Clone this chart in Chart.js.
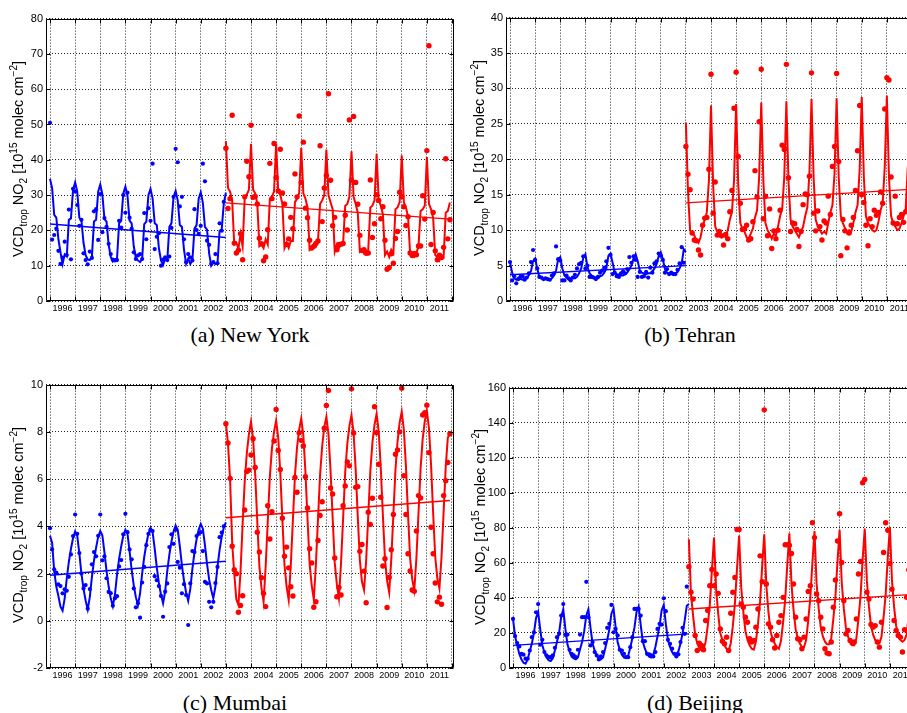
<!DOCTYPE html>
<html lang="en">
<head>
<meta charset="UTF-8">
<title>Tropospheric NO2 columns</title>
<script src="https://cdn.jsdelivr.net/npm/chart.js"></script>
<style>
  html, body { margin: 0; padding: 0; background: #fff; overflow: hidden; }
  body { width: 907px; height: 713px; position: relative; }
  canvas { position: absolute; }
  .ytitle { position: absolute; width: 240px; height: 18px; line-height: 18px; text-align: center; white-space: nowrap;
            font: 14.5px 'Liberation Sans', Arial, sans-serif; color: #000; transform: rotate(-90deg); }
  .ytitle sub, .ytitle sup { font-size: 10px; line-height: 0; }
  .caption { position: absolute; font: 22px 'Liberation Serif', 'Times New Roman', serif; white-space: nowrap;
             line-height: 26px; transform: translateX(-50%); color: #000; }
</style>
</head>
<body>
<canvas id="cA" width="444" height="308" style="left:16px;top:9px"></canvas>
<canvas id="cB" width="444" height="309" style="left:476px;top:8px"></canvas>
<canvas id="cC" width="444" height="309" style="left:16px;top:375px"></canvas>
<canvas id="cD" width="444" height="306" style="left:479px;top:378px"></canvas>

<div class="ytitle" style="left:-101px;top:150px">VCD<sub>trop</sub> NO<sub>2</sub> [10<sup>15</sup> molec cm<sup>&minus;2</sup>]</div>
<div class="ytitle" style="left:360px;top:149px">VCD<sub>trop</sub> NO<sub>2</sub> [10<sup>15</sup> molec cm<sup>&minus;2</sup>]</div>
<div class="ytitle" style="left:-101px;top:516px">VCD<sub>trop</sub> NO<sub>2</sub> [10<sup>15</sup> molec cm<sup>&minus;2</sup>]</div>
<div class="ytitle" style="left:361px;top:518px">VCD<sub>trop</sub> NO<sub>2</sub> [10<sup>15</sup> molec cm<sup>&minus;2</sup>]</div>

<div class="caption" style="left:250px;top:322px">(a) New York</div>
<div class="caption" style="left:690px;top:322px">(b) Tehran</div>
<div class="caption" style="left:235px;top:690px">(c) Mumbai</div>
<div class="caption" style="left:695px;top:690px">(d) Beijing</div>

<script>
// monthly series: GOME (blue) from Jan 1996, SCIAMACHY (red) from Jan 2003
const gomeStart = 1996;
const sciaStart = 2003;
const yearLabels = [1996, 1997, 1998, 1999, 2000, 2001, 2002, 2003, 2004, 2005, 2006, 2007, 2008, 2009, 2010, 2011];

// ---- New York ----
const nyGomeObs = [
  50.5, 17.4, 18.7, 20.5, 14.2, 10.5, 12.3, 16.8, 13.0, 25.9, 11.8, 31.8,
  31.0, 27.2, 21.3, 23.0, 13.5, 11.6, 10.4, 14.0, 12.2, 25.4, 26.0, 17.3,
  30.3, 19.5, 23.5, 21.0, 16.2, 13.3, 11.7, 11.5, 11.6, 22.7, 20.8, 30.0,
  25.0, 30.7, 23.6, 20.5, 13.8, 11.9, 12.9, 13.3, 11.9, 24.9, 17.5, 26.3,
  22.7, 38.9, 14.7, 18.2, 19.2, 10.0, 11.7, 12.4, 11.6, 12.6, 20.7, 29.5,
  43.1, 39.3, 26.8, 29.5, 17.5, 11.0, 13.3, 12.4, 11.5, 26.0, 20.1, 19.0,
  21.3, 38.9, 33.9, 17.1, 15.9, 10.5, 11.0, 13.3, 10.7, 22.0, 19.9, 28.1];
const nyGomeFit = [
  34.6, 32.0, 24.4, 23.6, 17.5, 13.8, 10.5, 13.2, 12.6, 23.0, 23.4, 31.5,
  33.6, 31.0, 23.6, 22.8, 16.5, 13.0, 11.8, 11.6, 12.5, 22.5, 23.0, 31.0,
  33.0, 30.2, 23.2, 22.5, 16.0, 12.5, 11.2, 11.8, 12.0, 22.0, 22.8, 30.5,
  32.4, 29.8, 22.8, 22.0, 15.5, 12.2, 11.5, 11.0, 11.8, 21.8, 22.5, 30.0,
  31.8, 29.0, 22.0, 21.5, 15.0, 11.5, 10.2, 12.0, 11.5, 21.0, 22.0, 29.5,
  31.2, 28.5, 21.5, 21.0, 14.5, 10.5, 12.0, 10.5, 11.5, 20.5, 21.5, 29.0,
  30.8, 27.8, 21.0, 20.2, 13.5, 10.0, 11.0, 10.5, 10.8, 19.9, 20.3, 27.6,
  30.7];
const nySciaObs = [
  43.3, 26.2, 29.0, 52.6, 16.4, 13.6, 14.4, 19.1, 11.7, 29.5, 39.6, 35.2,
  49.8, 29.4, 29.6, 27.5, 17.8, 16.2, 11.4, 12.5, 20.2, 39.0, 29.0, 44.6,
  35.0, 31.2, 43.0, 30.6, 27.5, 16.0, 17.6, 23.7, 20.5, 36.0, 29.5, 52.4,
  33.6, 45.0, 26.3, 23.6, 17.2, 15.0, 15.5, 16.3, 17.0, 44.0, 22.5, 32.0,
  35.6, 58.7, 34.2, 21.3, 23.7, 14.5, 16.0, 16.1, 16.3, 24.3, 20.1, 51.3,
  34.2, 52.3, 33.6, 27.4, 18.6, 14.3, 14.5, 13.5, 13.6, 34.3, 18.0, 21.9,
  30.1, 28.5, 23.3, 26.7, 17.2, 9.0, 9.5, 13.4, 10.7, 17.7, 19.7, 30.8,
  29.6, 26.7, 21.4, 23.9, 13.6, 12.9, 13.5, 13.1, 15.6, 15.6, 29.8, 23.2,
  42.6, 72.3, 16.0, 25.1, 14.2, 11.7, 13.0, 12.3, 15.2, 40.3, 17.6, 23.0];
const nySciaFit = [
  45.3, 32.0, 31.0, 28.5, 16.0, 16.5, 14.8, 19.0, 15.5, 29.3, 30.2, 31.5,
  44.5, 31.5, 30.5, 27.5, 15.5, 16.0, 15.0, 17.5, 16.0, 29.0, 29.5, 31.0,
  44.5, 31.0, 30.0, 27.5, 15.0, 16.5, 15.0, 17.0, 17.0, 28.0, 29.0, 30.5,
  43.4, 30.5, 29.0, 26.5, 14.5, 15.0, 16.0, 15.5, 17.0, 27.5, 28.5, 30.0,
  42.9, 30.0, 28.0, 26.0, 14.0, 16.0, 15.0, 16.0, 16.5, 27.0, 27.5, 29.5,
  42.4, 29.5, 27.5, 25.0, 14.0, 14.5, 13.5, 14.0, 14.5, 26.5, 27.0, 28.5,
  41.7, 28.5, 27.0, 24.5, 13.0, 14.0, 12.5, 14.5, 13.5, 26.0, 26.5, 28.0,
  41.3, 28.0, 26.5, 24.0, 13.5, 13.0, 12.5, 13.5, 15.5, 25.5, 26.0, 27.0,
  40.8, 27.5, 26.0, 23.5, 13.0, 12.5, 11.5, 13.0, 12.5, 25.0, 25.5, 27.9];
const nyGomeTrend = [21.8, 18.0];
const nySciaTrend = [27.8, 23.2];

// ---- Tehran ----
const thGomeObs = [
  5.5, 2.9, 3.5, 2.5, 3.1, 3.4, 3.5, 3.0, 3.3, 3.9, 5.5, 7.2,
  5.8, 4.6, 3.4, 3.3, 3.1, 3.2, 3.1, 3.0, 3.6, 3.9, 7.7, 5.9,
  5.7, 2.9, 2.9, 3.6, 3.2, 2.9, 3.3, 3.7, 4.6, 5.2, 5.4, 6.3,
  4.6, 5.0, 3.4, 3.4, 3.3, 3.1, 3.4, 4.0, 4.3, 4.7, 5.6, 7.5,
  6.5, 3.8, 4.0, 3.5, 3.4, 3.9, 4.2, 3.9, 4.5, 6.2, 5.4, 6.3,
  5.8, 3.4, 4.1, 3.4, 3.5, 4.1, 3.3, 4.7, 4.0, 5.3, 5.6, 6.7,
  6.4, 5.8, 4.0, 4.5, 3.8, 4.0, 3.8, 3.8, 4.4, 5.3, 7.6, 5.4];
const thGomeFit = [
  5.5, 4.0, 3.2, 3.0, 3.3, 3.1, 3.0, 3.2, 3.3, 3.6, 4.2, 5.6,
  6.0, 4.6, 3.4, 3.2, 3.1, 3.1, 3.0, 3.0, 3.2, 3.6, 4.3, 5.9,
  6.2, 4.6, 3.6, 3.3, 3.0, 3.2, 3.3, 3.2, 3.4, 3.9, 4.6, 6.1,
  6.6, 4.8, 3.9, 3.6, 3.4, 3.3, 3.2, 3.5, 3.6, 4.0, 4.6, 6.4,
  6.7, 5.4, 4.0, 3.8, 3.7, 3.6, 3.6, 3.8, 4.0, 4.5, 5.0, 6.0,
  6.6, 5.6, 4.3, 4.0, 3.9, 3.8, 3.9, 3.9, 4.2, 4.6, 5.2, 6.3,
  6.9, 5.9, 4.5, 4.0, 3.9, 3.8, 3.9, 3.9, 4.1, 4.6, 5.3, 7.3,
  6.9];
const thSciaObs = [
  21.8, 17.9, 15.7, 9.6, 8.6, 8.5, 7.2, 6.5, 10.7, 11.7, 11.8, 18.6,
  32.0, 12.4, 16.8, 9.3, 9.8, 9.2, 7.9, 9.4, 8.8, 12.6, 15.6, 27.2,
  32.3, 20.4, 13.8, 10.1, 10.2, 10.7, 8.6, 8.8, 11.2, 18.4, 14.7, 25.3,
  32.7, 11.6, 14.8, 9.2, 13.0, 7.4, 9.9, 8.8, 10.0, 12.8, 22.0, 21.4,
  33.4, 17.4, 9.8, 11.0, 10.9, 10.1, 7.7, 9.8, 13.6, 15.1, 15.0, 17.6,
  32.2, 12.4, 9.9, 12.7, 10.5, 8.6, 11.3, 11.0, 14.8, 12.2, 19.0, 21.8,
  32.1, 19.7, 6.4, 11.5, 9.9, 7.5, 9.6, 10.7, 11.8, 15.6, 21.2, 27.6,
  15.0, 13.9, 10.7, 7.8, 11.6, 10.5, 12.8, 12.1, 12.5, 15.4, 13.8, 27.1,
  31.5, 31.2, 17.5, 11.0, 14.8, 10.9, 11.8, 12.2, 11.1, 12.6, 13.3, 9.5];
const thSciaFit = [
  25.2, 15.5, 10.0, 9.5, 9.3, 8.5, 8.2, 9.0, 10.5, 11.5, 12.5, 17.0,
  27.6, 16.5, 10.5, 9.8, 9.5, 9.0, 9.2, 9.0, 10.0, 11.5, 12.5, 17.0,
  27.8, 16.5, 11.0, 10.2, 9.8, 9.0, 8.8, 9.5, 10.2, 11.8, 12.8, 17.5,
  28.0, 17.0, 11.0, 10.0, 9.5, 8.8, 9.5, 9.2, 10.5, 12.0, 13.0, 17.5,
  28.2, 17.0, 11.5, 10.5, 10.0, 9.5, 9.0, 9.8, 10.5, 12.0, 13.2, 18.0,
  28.5, 17.5, 11.5, 10.5, 10.0, 9.5, 9.8, 9.5, 11.0, 12.5, 13.5, 18.0,
  28.6, 17.5, 12.0, 11.0, 10.3, 9.6, 10.0, 9.8, 11.0, 12.5, 13.5, 18.5,
  28.8, 17.5, 12.0, 11.0, 10.5, 10.0, 9.8, 10.0, 11.2, 12.8, 13.8, 19.0,
  29.0, 17.5, 12.0, 11.0, 10.5, 10.0, 10.2, 11.0, 12.0, 13.0, 18.9, 21.0];
const thGomeTrend = [3.7, 5.0];
const thSciaTrend = [13.85, 15.75];

// ---- Mumbai ----
const mbGomeObs = [
  3.92, 3.02, 2.18, 2.04, 1.54, 1.47, 1.16, 1.33, 1.27, 1.86, 2.81, 3.59,
  4.50, 3.68, 2.87, 2.00, 1.37, 1.51, 0.51, 1.34, 2.39, 2.91, 2.73, 3.60,
  4.50, 2.56, 2.73, 1.80, 1.22, 1.17, 0.64, 0.95, 1.04, 2.30, 2.57, 3.66,
  4.53, 3.75, 3.02, 2.60, 1.37, 0.57, 0.74, 0.13, 1.62, 2.28, 3.20, 3.68,
  3.85, 3.80, 1.89, 1.72, 1.47, 1.05, 0.17, 1.23, 1.58, 3.12, 3.66, 3.26,
  3.85, 2.49, 2.25, 1.16, 1.55, 1.09, -0.18, 1.58, 2.95, 2.91, 3.59, 3.68,
  3.75, 2.95, 1.65, 1.58, 0.80, 0.57, 0.80, 1.60, 2.28, 3.54, 3.73, 4.00];
const mbGomeFit = [
  3.60, 3.30, 2.10, 1.45, 1.05, 0.60, 0.43, 0.95, 1.80, 2.50, 3.05, 3.50,
  3.78, 3.60, 2.85, 2.00, 1.35, 0.86, 0.48, 1.00, 1.85, 2.55, 3.10, 3.55,
  3.80, 3.62, 2.90, 2.10, 1.45, 0.95, 0.62, 1.10, 1.95, 2.62, 3.15, 3.60,
  3.85, 3.68, 2.95, 2.15, 1.50, 1.00, 0.67, 1.15, 2.00, 2.70, 3.25, 3.68,
  3.94, 3.75, 3.05, 2.25, 1.60, 1.10, 0.74, 1.25, 2.10, 2.80, 3.35, 3.78,
  4.03, 3.85, 3.15, 2.35, 1.70, 1.20, 0.85, 1.35, 2.20, 2.90, 3.45, 3.85,
  4.10, 3.90, 3.20, 2.40, 1.75, 1.30, 0.95, 1.45, 2.30, 3.00, 3.55, 3.95,
  4.17];
const mbSciaObs = [
  8.34, 7.53, 6.03, 3.16, 2.16, 1.99, 0.36, 0.65, 1.06, 4.69, 6.32, 6.38,
  7.02, 7.71, 6.49, 3.75, 2.91, 1.82, 1.16, 0.60, 4.87, 3.46, 4.62, 7.61,
  8.95, 7.21, 6.41, 4.34, 2.73, 3.12, 2.24, 1.44, 1.05, 6.07, 5.44, 7.96,
  7.64, 7.40, 6.10, 4.78, 3.05, 2.45, 0.57, 0.81, 3.40, 4.46, 5.04, 8.15,
  9.12, 9.75, 5.62, 5.37, 2.66, 1.02, 1.41, 1.09, 4.87, 5.71, 6.73, 6.56,
  9.82, 7.95, 5.65, 5.68, 2.94, 3.23, 2.10, 0.76, 4.60, 4.08, 5.19, 9.06,
  7.96, 6.63, 5.23, 2.32, 2.63, 0.56, 1.83, 3.01, 4.50, 7.05, 7.23, 8.00,
  9.85, 6.14, 4.50, 2.84, 2.11, 1.30, 1.25, 3.80, 5.30, 5.20, 8.71, 8.81,
  9.13, 7.12, 3.96, 2.84, 1.60, 0.80, 1.00, 0.70, 5.30, 5.93, 6.70, 7.92];
const mbSciaFit = [
  8.39, 7.50, 6.00, 3.30, 2.00, 0.90, 0.67, 2.10, 4.10, 5.90, 7.10, 7.90,
  8.43, 7.70, 6.20, 4.20, 2.30, 1.40, 0.80, 2.30, 4.20, 6.10, 7.30, 8.00,
  8.48, 7.75, 6.25, 4.25, 2.35, 1.45, 0.88, 2.35, 4.25, 6.15, 7.35, 8.10,
  8.57, 7.85, 6.30, 4.30, 2.40, 1.50, 0.90, 2.40, 4.30, 6.20, 7.40, 8.20,
  8.64, 7.90, 6.35, 4.35, 2.45, 1.55, 0.95, 2.45, 4.35, 6.30, 7.50, 8.25,
  8.70, 7.95, 6.40, 4.40, 2.55, 1.65, 1.30, 2.55, 4.45, 6.35, 7.55, 8.30,
  8.77, 8.00, 6.45, 4.45, 2.60, 1.70, 1.20, 2.60, 4.50, 6.40, 7.60, 8.40,
  8.85, 8.10, 6.55, 4.50, 2.65, 1.75, 1.30, 2.65, 4.55, 6.45, 7.70, 8.45,
  8.90, 8.15, 6.60, 4.55, 2.70, 1.80, 1.37, 2.70, 4.60, 6.50, 7.75, 7.96];
const mbGomeTrend = [1.93, 2.52];
const mbSciaTrend = [4.36, 5.09];

// ---- Beijing ----
const bjGomeObs = [
  28.0, 18.2, 14.2, 12.3, 8.1, 7.6, 5.3, 5.3, 10.0, 17.6, 20.3, 31.8,
  36.5, 13.3, 16.1, 9.1, 7.2, 6.2, 6.2, 7.2, 11.5, 17.6, 19.5, 29.9,
  36.5, 18.9, 19.1, 10.4, 8.1, 7.2, 6.2, 10.4, 19.1, 29.0, 29.0, 49.2,
  29.0, 12.9, 14.8, 9.1, 7.2, 4.9, 6.6, 9.1, 14.2, 22.9, 25.2, 36.0,
  20.4, 22.3, 18.6, 10.4, 10.0, 8.1, 6.2, 6.2, 11.9, 17.6, 33.7, 33.7,
  33.7, 29.9, 15.3, 15.3, 8.1, 7.8, 7.2, 6.6, 9.1, 22.3, 25.2, 24.8,
  39.8, 32.4, 16.1, 13.8, 11.0, 8.1, 6.6, 7.8, 14.8, 22.9, 19.5, 46.4];
const bjGomeFit = [
  28.0, 18.0, 13.0, 8.0, 5.0, 3.0, 2.5, 5.0, 9.5, 14.0, 20.0, 28.5,
  32.0, 22.0, 13.0, 9.0, 6.0, 4.5, 4.0, 5.5, 10.0, 15.0, 20.0, 29.0,
  33.5, 22.5, 13.5, 9.5, 6.5, 5.5, 5.0, 6.0, 10.5, 15.0, 21.0, 30.0,
  33.5, 23.0, 14.0, 10.0, 7.0, 5.5, 5.0, 6.0, 11.0, 16.0, 22.0, 31.0,
  34.0, 23.5, 14.5, 10.5, 7.5, 6.0, 6.0, 7.0, 11.5, 17.0, 23.0, 32.0,
  35.0, 24.5, 15.0, 11.0, 8.0, 6.5, 6.0, 7.5, 12.0, 18.0, 24.0, 33.0,
  36.0, 25.0, 16.0, 12.0, 9.0, 8.0, 8.0, 9.5, 14.0, 20.0, 27.0, 35.5,
  36.5];
const bjSciaObs = [
  57.8, 43.2, 39.4, 18.6, 10.0, 14.2, 12.9, 10.4, 27.1, 32.8, 47.0, 56.2,
  47.0, 53.6, 42.6, 22.3, 15.3, 13.8, 17.6, 10.0, 31.2, 43.2, 51.7, 79.0,
  79.0, 36.5, 34.7, 29.0, 26.1, 16.7, 14.8, 15.7, 23.3, 33.7, 64.0, 49.2,
  147.3, 48.0, 25.2, 23.3, 16.1, 11.4, 18.6, 26.1, 29.9, 40.3, 70.3, 70.3,
  70.1, 65.3, 47.9, 29.0, 16.7, 16.1, 11.0, 17.6, 28.0, 43.7, 47.0, 82.9,
  74.4, 42.2, 38.4, 29.0, 22.3, 11.0, 8.5, 8.1, 14.8, 34.7, 50.2, 72.5,
  88.0, 60.2, 38.4, 19.5, 21.4, 15.7, 14.2, 14.8, 28.0, 53.6, 60.8, 105.7,
  107.6, 43.2, 39.4, 24.8, 23.3, 24.2, 14.8, 11.9, 26.1, 65.9, 82.9, 78.6,
  59.6, 45.0, 27.1, 21.4, 18.6, 17.6, 9.1, 21.8, 40.3, 56.0, 62.0, 70.0];
const bjSciaFit = [
  73.5, 42.0, 30.0, 19.0, 14.0, 11.5, 10.0, 10.5, 15.0, 24.0, 36.0, 56.0,
  74.4, 45.0, 31.0, 20.0, 16.0, 13.0, 11.0, 10.0, 14.0, 24.0, 37.0, 57.0,
  75.5, 46.0, 32.0, 21.0, 16.0, 13.0, 11.0, 10.5, 15.0, 25.0, 38.0, 58.0,
  76.3, 47.0, 32.0, 21.0, 16.5, 14.0, 12.0, 11.0, 15.5, 26.0, 39.0, 59.0,
  76.9, 48.0, 33.0, 22.0, 17.0, 14.0, 12.0, 12.0, 16.0, 27.0, 40.0, 60.0,
  78.2, 48.0, 34.0, 23.0, 18.0, 15.0, 13.5, 13.5, 17.0, 28.0, 41.0, 61.0,
  78.8, 49.0, 34.0, 23.0, 18.0, 15.0, 13.0, 13.0, 17.0, 28.0, 41.0, 62.0,
  79.5, 50.0, 35.0, 24.0, 19.0, 16.0, 14.0, 14.0, 18.0, 29.0, 42.0, 63.0,
  80.5, 50.0, 35.0, 24.0, 19.0, 16.0, 15.0, 16.0, 19.0, 30.0, 56.0, 66.0];
const bjGomeTrend = [12.9, 19.5];
const bjSciaTrend = [33.7, 42.0];

const BLUE = '#0000ff';
const RED = '#ff0000';
const GRID = '#222';
const FONT = "'Liberation Sans', Arial, sans-serif";

function monthly(values, start) {
  return values.map((v, i) => ({ x: start + i / 12, y: v }));
}
function trend(ends, start, n) {
  return [{ x: start, y: ends[0] }, { x: start + (n - 1) / 12, y: ends[1] }];
}

// box round the plot area and small inward ticks, as in the MATLAB figure
const framePlugin = {
  id: 'frame',
  afterDraw(chart) {
    const { ctx, chartArea: a, scales } = chart;
    const L = Math.round(a.left) + 0.5, R = Math.round(a.right) - 0.5;
    const T = Math.round(a.top) + 0.5, B = Math.round(a.bottom) - 0.5;
    ctx.save();
    ctx.strokeStyle = '#000';
    ctx.lineWidth = 1;
    ctx.beginPath();
    ctx.rect(L, T, R - L, B - T);
    scales.x.ticks.forEach(t => {
      if (t.value % 1 !== 0) return;
      const px = Math.round(scales.x.getPixelForValue(t.value)) + 0.5;
      ctx.moveTo(px, B); ctx.lineTo(px, B - 4);
      ctx.moveTo(px, T); ctx.lineTo(px, T + 4);
    });
    scales.y.ticks.forEach(t => {
      const py = Math.round(scales.y.getPixelForValue(t.value)) + 0.5;
      ctx.moveTo(L, py); ctx.lineTo(L + 4, py);
      ctx.moveTo(R, py); ctx.lineTo(R - 4, py);
    });
    ctx.stroke();
    ctx.restore();
  }
};

function makeChart(id, gomeObs, gomeFit, gomeTrend, sciaObs, sciaFit, sciaTrend, yMin, yMax, yStep) {
  const line = (data, color, w) => ({
    data, showLine: true, borderColor: color, borderWidth: w, pointRadius: 0, fill: false, tension: 0
  });
  const dots = (data, color, r) => ({
    data, showLine: false, pointRadius: r, pointBackgroundColor: color, pointBorderWidth: 0, pointStyle: 'circle'
  });
  new Chart(document.getElementById(id), {
    type: 'scatter',
    data: {
      datasets: [
        line(monthly(gomeFit, gomeStart), BLUE, 2),
        line(monthly(sciaFit, sciaStart), RED, 2),
        line(trend(gomeTrend, gomeStart, gomeFit.length), BLUE, 1.4),
        line(trend(sciaTrend, sciaStart, sciaFit.length), RED, 1.4),
        dots(monthly(gomeObs, gomeStart), BLUE, 2.1),
        dots(monthly(sciaObs, sciaStart), RED, 2.7)
      ]
    },
    options: {
      responsive: false,
      animation: false,
      devicePixelRatio: 1,
      events: [],
      layout: { padding: { top: 8, right: 6, left: 0, bottom: 0 } },
      plugins: { legend: { display: false }, tooltip: { enabled: false } },
      scales: {
        x: {
          type: 'linear',
          min: 1995.84,
          max: 2012.08,
          afterFit(s) { s.height = 16; },
          afterBuildTicks(s) {
            const t = [];
            yearLabels.forEach(y => { t.push({ value: y }); t.push({ value: y + 0.5 }); });
            t.push({ value: yearLabels[yearLabels.length - 1] + 1 });
            s.ticks = t;
          },
          ticks: {
            autoSkip: false, maxRotation: 0, minRotation: 0, padding: 2, color: '#000',
            font: { family: FONT, size: 9 },
            callback: v => (v % 1 !== 0 ? String(Math.floor(v)) : '')
          },
          grid: {
            drawTicks: false,
            color: c => (c.tick && c.tick.value % 1 === 0 ? GRID : 'rgba(0,0,0,0)'),
            lineWidth: c => (c.tick && c.tick.value % 1 === 0 ? 1 : 0)
          },
          border: { display: false, dash: [1, 2] }
        },
        y: {
          min: yMin, max: yMax,
          afterFit(s) { s.width = 30; },
          ticks: { stepSize: yStep, padding: 3, color: '#000', font: { family: FONT, size: 11 } },
          grid: { drawTicks: false, color: GRID, lineWidth: 1 },
          border: { display: false, dash: [1, 2] }
        }
      }
    },
    plugins: [framePlugin]
  });
}

makeChart('cA', nyGomeObs, nyGomeFit, nyGomeTrend, nySciaObs, nySciaFit, nySciaTrend, 0, 80, 10);
makeChart('cB', thGomeObs, thGomeFit, thGomeTrend, thSciaObs, thSciaFit, thSciaTrend, 0, 40, 5);
makeChart('cC', mbGomeObs, mbGomeFit, mbGomeTrend, mbSciaObs, mbSciaFit, mbSciaTrend, -2, 10, 2);
makeChart('cD', bjGomeObs, bjGomeFit, bjGomeTrend, bjSciaObs, bjSciaFit, bjSciaTrend, 0, 160, 20);
</script>
</body>
</html>
